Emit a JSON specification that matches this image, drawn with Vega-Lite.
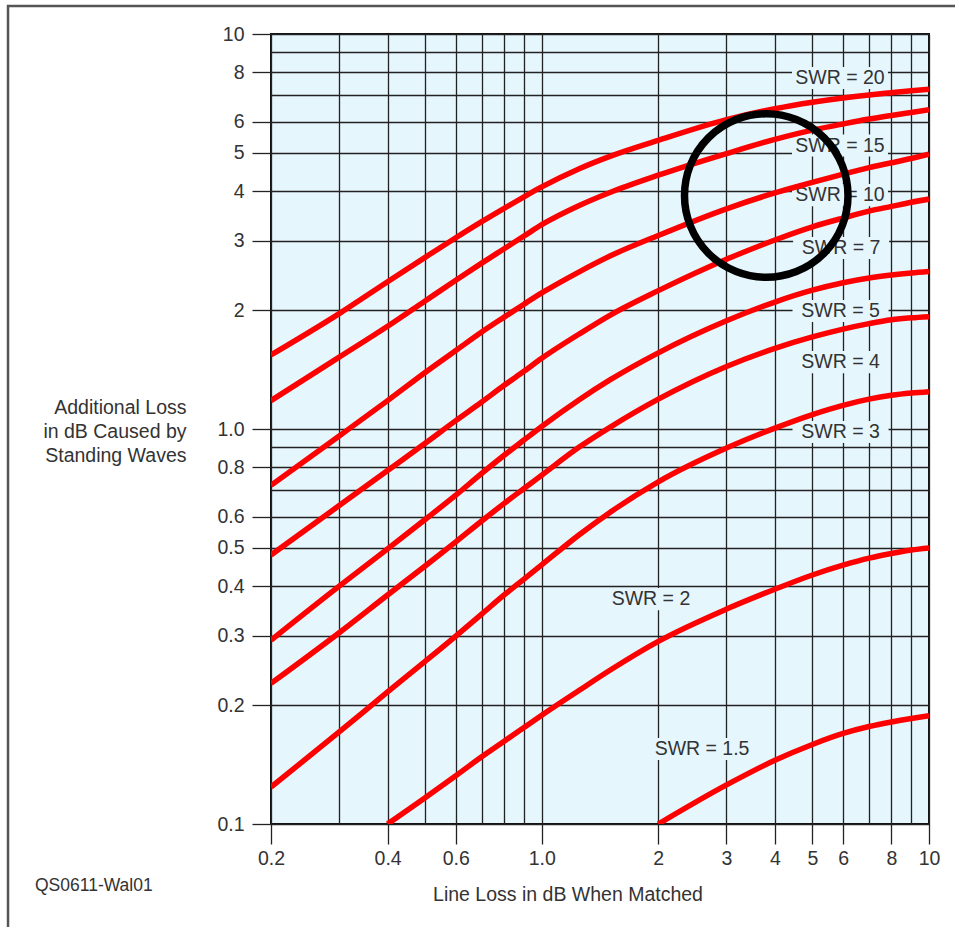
{
  "$schema": "https://vega.github.io/schema/vega-lite/v6.json",
  "width": 658,
  "height": 790,
  "autosize": {"type": "none"},
  "padding": {"left": 271, "top": 34, "right": 26, "bottom": 103},
  "background": "white",
  "config": {
    "font": "Liberation Sans",
    "view": {"fill": "#e6f6fd", "stroke": "#111111", "strokeWidth": 2}
  },
  "datasets": {
    "curves": [
      {"swr": "20", "ml": 0.2, "al": 1.54}, {"swr": "20", "ml": 0.3, "al": 1.96}, {"swr": "20", "ml": 0.4, "al": 2.36}, {"swr": "20", "ml": 0.5, "al": 2.72}, {"swr": "20", "ml": 0.6, "al": 3.05}, {"swr": "20", "ml": 0.7, "al": 3.35}, {"swr": "20", "ml": 0.8, "al": 3.62}, {"swr": "20", "ml": 0.9, "al": 3.87}, {"swr": "20", "ml": 1.0, "al": 4.10}, {"swr": "20", "ml": 1.25, "al": 4.56}, {"swr": "20", "ml": 1.5, "al": 4.90}, {"swr": "20", "ml": 2, "al": 5.38}, {"swr": "20", "ml": 3, "al": 6.07}, {"swr": "20", "ml": 4, "al": 6.47}, {"swr": "20", "ml": 5, "al": 6.72}, {"swr": "20", "ml": 6, "al": 6.89}, {"swr": "20", "ml": 7, "al": 7.01}, {"swr": "20", "ml": 8, "al": 7.10}, {"swr": "20", "ml": 9, "al": 7.18}, {"swr": "20", "ml": 10, "al": 7.25},
      {"swr": "15", "ml": 0.2, "al": 1.18}, {"swr": "15", "ml": 0.3, "al": 1.52}, {"swr": "15", "ml": 0.4, "al": 1.82}, {"swr": "15", "ml": 0.5, "al": 2.11}, {"swr": "15", "ml": 0.6, "al": 2.38}, {"swr": "15", "ml": 0.7, "al": 2.63}, {"swr": "15", "ml": 0.8, "al": 2.86}, {"swr": "15", "ml": 0.9, "al": 3.08}, {"swr": "15", "ml": 1.0, "al": 3.29}, {"swr": "15", "ml": 1.25, "al": 3.68}, {"swr": "15", "ml": 1.5, "al": 3.97}, {"swr": "15", "ml": 2, "al": 4.39}, {"swr": "15", "ml": 3, "al": 4.98}, {"swr": "15", "ml": 4, "al": 5.41}, {"swr": "15", "ml": 5, "al": 5.71}, {"swr": "15", "ml": 6, "al": 5.92}, {"swr": "15", "ml": 7, "al": 6.09}, {"swr": "15", "ml": 8, "al": 6.22}, {"swr": "15", "ml": 9, "al": 6.33}, {"swr": "15", "ml": 10, "al": 6.43},
      {"swr": "10", "ml": 0.2, "al": 0.72}, {"swr": "10", "ml": 0.3, "al": 0.96}, {"swr": "10", "ml": 0.4, "al": 1.18}, {"swr": "10", "ml": 0.5, "al": 1.39}, {"swr": "10", "ml": 0.6, "al": 1.58}, {"swr": "10", "ml": 0.7, "al": 1.76}, {"swr": "10", "ml": 0.8, "al": 1.92}, {"swr": "10", "ml": 0.9, "al": 2.07}, {"swr": "10", "ml": 1.0, "al": 2.21}, {"swr": "10", "ml": 1.25, "al": 2.50}, {"swr": "10", "ml": 1.5, "al": 2.74}, {"swr": "10", "ml": 2, "al": 3.09}, {"swr": "10", "ml": 3, "al": 3.61}, {"swr": "10", "ml": 4, "al": 3.96}, {"swr": "10", "ml": 5, "al": 4.21}, {"swr": "10", "ml": 6, "al": 4.42}, {"swr": "10", "ml": 7, "al": 4.59}, {"swr": "10", "ml": 8, "al": 4.72}, {"swr": "10", "ml": 9, "al": 4.84}, {"swr": "10", "ml": 10, "al": 4.96},
      {"swr": "7", "ml": 0.2, "al": 0.48}, {"swr": "7", "ml": 0.3, "al": 0.64}, {"swr": "7", "ml": 0.4, "al": 0.785}, {"swr": "7", "ml": 0.5, "al": 0.92}, {"swr": "7", "ml": 0.6, "al": 1.05}, {"swr": "7", "ml": 0.7, "al": 1.17}, {"swr": "7", "ml": 0.8, "al": 1.29}, {"swr": "7", "ml": 0.9, "al": 1.40}, {"swr": "7", "ml": 1.0, "al": 1.51}, {"swr": "7", "ml": 1.25, "al": 1.74}, {"swr": "7", "ml": 1.5, "al": 1.94}, {"swr": "7", "ml": 2, "al": 2.24}, {"swr": "7", "ml": 3, "al": 2.69}, {"swr": "7", "ml": 4, "al": 3.01}, {"swr": "7", "ml": 5, "al": 3.25}, {"swr": "7", "ml": 6, "al": 3.42}, {"swr": "7", "ml": 7, "al": 3.56}, {"swr": "7", "ml": 8, "al": 3.66}, {"swr": "7", "ml": 9, "al": 3.75}, {"swr": "7", "ml": 10, "al": 3.82},
      {"swr": "5", "ml": 0.2, "al": 0.292}, {"swr": "5", "ml": 0.3, "al": 0.40}, {"swr": "5", "ml": 0.4, "al": 0.497}, {"swr": "5", "ml": 0.5, "al": 0.59}, {"swr": "5", "ml": 0.6, "al": 0.68}, {"swr": "5", "ml": 0.7, "al": 0.772}, {"swr": "5", "ml": 0.8, "al": 0.858}, {"swr": "5", "ml": 0.9, "al": 0.938}, {"swr": "5", "ml": 1.0, "al": 1.015}, {"swr": "5", "ml": 1.25, "al": 1.186}, {"swr": "5", "ml": 1.5, "al": 1.331}, {"swr": "5", "ml": 2, "al": 1.559}, {"swr": "5", "ml": 3, "al": 1.879}, {"swr": "5", "ml": 4, "al": 2.096}, {"swr": "5", "ml": 5, "al": 2.246}, {"swr": "5", "ml": 6, "al": 2.346}, {"swr": "5", "ml": 7, "al": 2.412}, {"swr": "5", "ml": 8, "al": 2.454}, {"swr": "5", "ml": 9, "al": 2.483}, {"swr": "5", "ml": 10, "al": 2.504},
      {"swr": "4", "ml": 0.2, "al": 0.227}, {"swr": "4", "ml": 0.3, "al": 0.305}, {"swr": "4", "ml": 0.4, "al": 0.38}, {"swr": "4", "ml": 0.5, "al": 0.45}, {"swr": "4", "ml": 0.6, "al": 0.518}, {"swr": "4", "ml": 0.7, "al": 0.585}, {"swr": "4", "ml": 0.8, "al": 0.648}, {"swr": "4", "ml": 0.9, "al": 0.707}, {"swr": "4", "ml": 1.0, "al": 0.764}, {"swr": "4", "ml": 1.25, "al": 0.90}, {"swr": "4", "ml": 1.5, "al": 1.01}, {"swr": "4", "ml": 2, "al": 1.19}, {"swr": "4", "ml": 3, "al": 1.44}, {"swr": "4", "ml": 4, "al": 1.60}, {"swr": "4", "ml": 5, "al": 1.71}, {"swr": "4", "ml": 6, "al": 1.79}, {"swr": "4", "ml": 7, "al": 1.848}, {"swr": "4", "ml": 8, "al": 1.89}, {"swr": "4", "ml": 9, "al": 1.912}, {"swr": "4", "ml": 10, "al": 1.925},
      {"swr": "3", "ml": 0.2, "al": 0.124}, {"swr": "3", "ml": 0.3, "al": 0.171}, {"swr": "3", "ml": 0.4, "al": 0.216}, {"swr": "3", "ml": 0.5, "al": 0.258}, {"swr": "3", "ml": 0.6, "al": 0.299}, {"swr": "3", "ml": 0.7, "al": 0.34}, {"swr": "3", "ml": 0.8, "al": 0.38}, {"swr": "3", "ml": 0.9, "al": 0.417}, {"swr": "3", "ml": 1.0, "al": 0.453}, {"swr": "3", "ml": 1.25, "al": 0.54}, {"swr": "3", "ml": 1.5, "al": 0.615}, {"swr": "3", "ml": 2, "al": 0.735}, {"swr": "3", "ml": 3, "al": 0.895}, {"swr": "3", "ml": 4, "al": 1.005}, {"swr": "3", "ml": 5, "al": 1.088}, {"swr": "3", "ml": 6, "al": 1.148}, {"swr": "3", "ml": 7, "al": 1.19}, {"swr": "3", "ml": 8, "al": 1.217}, {"swr": "3", "ml": 9, "al": 1.233}, {"swr": "3", "ml": 10, "al": 1.243},
      {"swr": "2", "ml": 0.4, "al": 0.1}, {"swr": "2", "ml": 0.5, "al": 0.1165}, {"swr": "2", "ml": 0.6, "al": 0.1325}, {"swr": "2", "ml": 0.7, "al": 0.148}, {"swr": "2", "ml": 0.8, "al": 0.162}, {"swr": "2", "ml": 0.9, "al": 0.1755}, {"swr": "2", "ml": 1.0, "al": 0.1885}, {"swr": "2", "ml": 1.25, "al": 0.218}, {"swr": "2", "ml": 1.5, "al": 0.245}, {"swr": "2", "ml": 2, "al": 0.29}, {"swr": "2", "ml": 3, "al": 0.35}, {"swr": "2", "ml": 4, "al": 0.393}, {"swr": "2", "ml": 5, "al": 0.427}, {"swr": "2", "ml": 6, "al": 0.452}, {"swr": "2", "ml": 7, "al": 0.471}, {"swr": "2", "ml": 8, "al": 0.484}, {"swr": "2", "ml": 9, "al": 0.494}, {"swr": "2", "ml": 10, "al": 0.50},
      {"swr": "1.5", "ml": 2, "al": 0.1}, {"swr": "1.5", "ml": 3, "al": 0.1256}, {"swr": "1.5", "ml": 4, "al": 0.145}, {"swr": "1.5", "ml": 5, "al": 0.159}, {"swr": "1.5", "ml": 6, "al": 0.1695}, {"swr": "1.5", "ml": 7, "al": 0.1765}, {"swr": "1.5", "ml": 8, "al": 0.1813}, {"swr": "1.5", "ml": 9, "al": 0.185}, {"swr": "1.5", "ml": 10, "al": 0.188}
    ],
    "labels": [
      {"label": "SWR = 20", "ml": 5.89, "al": 7.74},
      {"label": "SWR = 15", "ml": 5.89, "al": 5.22},
      {"label": "SWR = 10", "ml": 5.89, "al": 3.91},
      {"label": "SWR = 7", "ml": 5.93, "al": 2.872},
      {"label": "SWR = 5", "ml": 5.91, "al": 1.99},
      {"label": "SWR = 4", "ml": 5.91, "al": 1.477},
      {"label": "SWR = 3", "ml": 5.91, "al": 0.983},
      {"label": "SWR = 2", "ml": 1.915, "al": 0.371},
      {"label": "SWR = 1.5", "ml": 2.594, "al": 0.1548}
    ],
    "frame": [{"ml": 0.04188, "ml2": 1000, "al": 11.77, "al2": 0.001}],
    "highlight": [{"ml": 3.8, "al": 3.9}],
    "figureId": [{"label": "QS0611-Wal01", "ml": 0.04916, "al": 0.0697}]
  },
  "encoding": {
    "x": {
      "field": "ml",
      "type": "quantitative",
      "scale": {"type": "log", "domain": [0.2, 10], "nice": false, "zero": false},
      "axis": {
        "values": [0.2, 0.3, 0.4, 0.5, 0.6, 0.7, 0.8, 0.9, 1, 2, 3, 4, 5, 6, 7, 8, 9, 10],
        "grid": true,
        "gridColor": "#222222",
        "gridWidth": 1.3,
        "gridOpacity": 1,
        "domain": false,
        "tickSize": 20,
        "tickColor": "#222222",
        "tickWidth": 1.3,
        "tickOpacity": {"condition": {"test": "indexof([0.2,0.4,0.6,1,2,3,4,5,6,8,10], datum.value) >= 0", "value": 1}, "value": 0},
        "labelExpr": "indexof([0.2,0.4,0.6,1,2,3,4,5,6,8,10], datum.value) < 0 ? '' : (datum.value < 1 ? format(datum.value, '.1f') : (datum.value == 1 ? '1.0' : format(datum.value, 'd')))",
        "labelFontSize": 19.5,
        "labelColor": "#333333",
        "labelPadding": 5,
        "labelFlush": false,
        "labelOverlap": false,
        "labelBound": false,
        "title": "Line Loss in dB When Matched",
        "titleFontSize": 19.5,
        "titleFontWeight": "normal",
        "titleColor": "#333333",
        "titleAlign": "center",
        "titleBaseline": "alphabetic",
        "titleX": 296.5,
        "titleY": 76
      }
    },
    "y": {
      "field": "al",
      "type": "quantitative",
      "scale": {"type": "log", "domain": [0.1, 10], "nice": false, "zero": false},
      "axis": {
        "values": [0.1, 0.2, 0.3, 0.4, 0.5, 0.6, 0.7, 0.8, 0.9, 1, 2, 3, 4, 5, 6, 7, 8, 9, 10],
        "grid": true,
        "gridColor": "#222222",
        "gridWidth": 1.3,
        "gridOpacity": 1,
        "domain": false,
        "tickSize": 19,
        "tickColor": "#222222",
        "tickWidth": 1.3,
        "tickOpacity": {"condition": {"test": "indexof([0.1,0.2,0.3,0.4,0.5,0.6,0.8,1,2,3,4,5,6,8,10], datum.value) >= 0", "value": 1}, "value": 0},
        "labelExpr": "indexof([0.1,0.2,0.3,0.4,0.5,0.6,0.8,1,2,3,4,5,6,8,10], datum.value) < 0 ? '' : (datum.value <= 1 ? format(datum.value, '.1f') : format(datum.value, 'd'))",
        "labelFontSize": 19.5,
        "labelColor": "#333333",
        "labelPadding": 8,
        "labelFlush": false,
        "labelOverlap": false,
        "labelBound": false,
        "title": ["Additional Loss", "in dB Caused by", "Standing Waves"],
        "titleFontSize": 19.5,
        "titleFontWeight": "normal",
        "titleColor": "#333333",
        "titleAngle": 0,
        "titleAlign": "right",
        "titleBaseline": "middle",
        "titleLineHeight": 24,
        "titleX": -85,
        "titleY": 373
      }
    }
  },
  "layer": [
    {
      "data": {"name": "frame"},
      "mark": {"type": "rect", "fill": "transparent", "stroke": "#555555", "strokeWidth": 2.5, "clip": false},
      "encoding": {"x2": {"field": "ml2"}, "y2": {"field": "al2"}}
    },
    {
      "data": {"name": "labels"},
      "mark": {"type": "point", "shape": "M-1,-0.23H1V0.23H-1Z", "size": 9216, "filled": true, "color": "#e6f6fd", "opacity": 1, "strokeWidth": 0}
    },
    {
      "data": {"name": "labels"},
      "mark": {"type": "text", "fontSize": 19.5, "color": "#333333", "align": "center", "baseline": "middle"},
      "encoding": {"text": {"field": "label"}}
    },
    {
      "data": {"name": "curves"},
      "mark": {"type": "line", "color": "#ff0000", "strokeWidth": 5.5, "interpolate": "monotone", "clip": true, "strokeCap": "butt"},
      "encoding": {"detail": {"field": "swr"}}
    },
    {
      "data": {"name": "highlight"},
      "mark": {"type": "point", "shape": "circle", "size": 26732, "filled": false, "color": "#000000", "strokeWidth": 7.5, "opacity": 1}
    },
    {
      "data": {"name": "figureId"},
      "mark": {"type": "text", "fontSize": 17.5, "color": "#333333", "align": "left", "baseline": "middle", "clip": false},
      "encoding": {"text": {"field": "label"}}
    }
  ]
}
